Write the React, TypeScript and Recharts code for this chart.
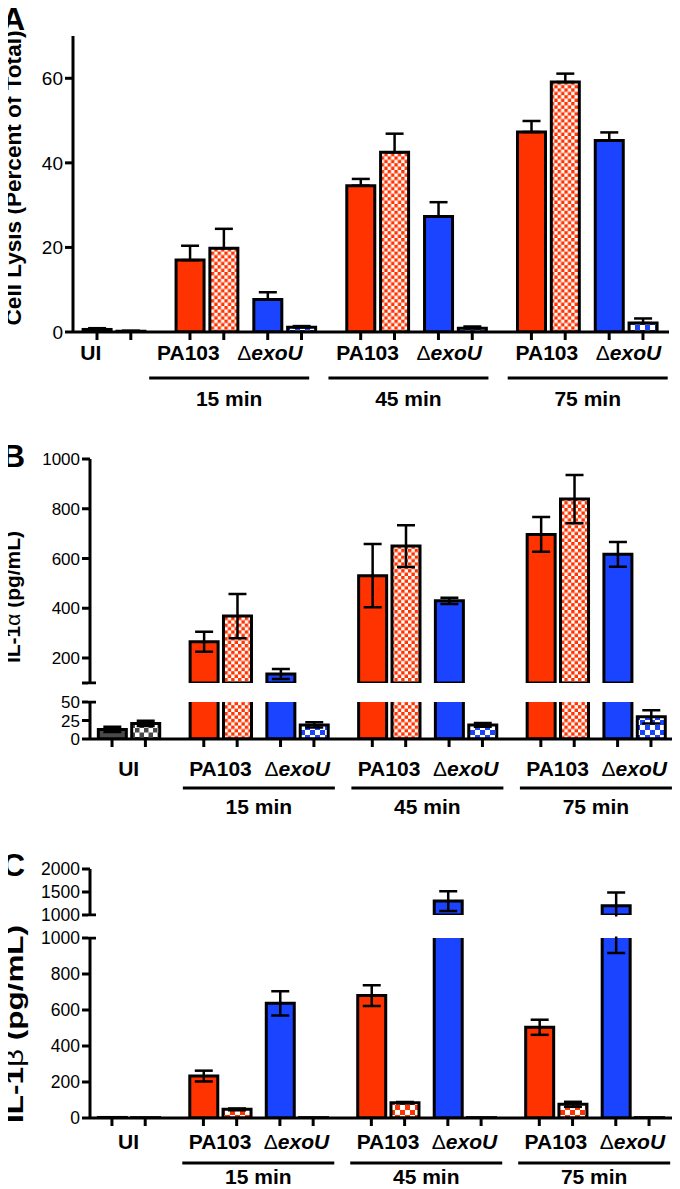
import React from "react";
import { BarChart, Bar, XAxis, YAxis, ErrorBar, Cell } from "recharts";

const FONT = '"Liberation Sans", Arial, Helvetica, sans-serif';
const INK = "#000000";
const RED = "#ff3300";
const BLUE = "#1a44ff";
const GRAY = "#4a4a4a";

// x axis groups
const uiLabel = "UI";
const strains = ["PA103", "ΔexoU"];
const timePoints = ["15 min", "45 min", "75 min"];

// bar order: UI, UI (checked), then per time point
// PA103, PA103 (checked), ΔexoU, ΔexoU (checked)
const lysisMean = [0.6, 0.2, 17.0, 19.8, 7.7, 1.1, 34.6, 42.5, 27.3, 0.9, 47.3, 59.1, 45.3, 2.1];
const lysisSem = [0.3, 0.1, 3.4, 4.6, 1.7, 0.3, 1.6, 4.4, 3.4, 0.4, 2.6, 2.0, 1.9, 1.1];

const il1aMean = [13, 21, 266, 369, 136, 19, 531, 650, 430, 19, 697, 839, 617, 30];
const il1aSem = [3.5, 3.5, 40, 89, 20, 3.5, 127, 84, 13, 2.5, 70, 97, 50, 9];

const il1bMean = [3, 2, 233, 48, 637, 2, 680, 85, 1304, 2, 504, 76, 1202, 2];
const il1bSem = [0, 0, 30, 5, 67, 0, 58, 4, 215, 0, 42, 14, 285, 0];

// spacing between bars, in axis units
const BAR_STEP = 1;
const PAIR_STEP = 1.3;
const GROUP_STEP = 1.75;
const BAR_AXIS_H = 8;

type Kind = "gray" | "red" | "blue";
type BarSlot = { x: number; kind: Kind; checked: boolean };
type Mark = { x: number; label: string };

function buildLayout() {
  const bars: BarSlot[] = [];
  const pairs: Mark[] = [];
  const groups: Mark[] = [];
  let x = 0;
  const addPair = (kind: Kind, label: string) => {
    bars.push({ x, kind, checked: false });
    bars.push({ x: x + BAR_STEP, kind, checked: true });
    pairs.push({ x: x + BAR_STEP / 2, label });
    x += BAR_STEP;
  };
  addPair("gray", uiLabel);
  timePoints.forEach((t) => {
    x += GROUP_STEP;
    const start = x;
    addPair("red", strains[0]);
    x += PAIR_STEP;
    addPair("blue", strains[1]);
    groups.push({ x: (start + x) / 2, label: t });
  });
  return { bars, pairs, groups };
}

const { bars, pairs, groups } = buildLayout();
const barXs = bars.map((b) => b.x);
const labelXs = [...pairs.map((p) => p.x), ...groups.map((g) => g.x)];
const solid: Record<Kind, string> = { gray: GRAY, red: RED, blue: BLUE };

type Seg = {
  key: string;
  top: number;
  height: number;
  marginTop: number;
  marginBottom: number;
  domain: [number, number];
  ticks: number[];
  caps: number[];
  hidden: number[];
  axis: boolean;
  cut: "none" | "top" | "bottom";
};

type Panel = {
  id: string;
  letter: string;
  letterY: number;
  title: React.ReactNode;
  titleX: number; // baseline of the rotated title
  titleY: number;
  titleFont: number;
  titleLen: number;
  mean: number[];
  sem: number[];
  upperOnly: boolean;
  yWidth: number;
  right: number;
  xDomain: [number, number];
  labelDomain: [number, number];
  tickFont: number;
  checks: Record<Kind, number>;
  catY: number;
  lineY: number;
  groupY: number;
  lineW: number;
  labelH: number;
  segs: Seg[];
};

const panels: Panel[] = [
  {
    id: "a",
    letter: "A",
    letterY: 30,
    title: "Cell Lysis (Percent of Total)",
    titleX: 20.5,
    titleY: 178,
    titleFont: 22,
    titleLen: 295,
    mean: lysisMean,
    sem: lysisSem,
    upperOnly: true,
    yWidth: 73,
    right: 11,
    xDomain: [-0.71, 16.92],
    labelDomain: [0, 16.79],
    tickFont: 19,
    checks: { red: 3.4, blue: 5, gray: 4.5 },
    catY: 20.5,
    lineY: 46,
    groupY: 66,
    lineW: 160,
    labelH: 80,
    segs: [
      { key: "m", top: 0, height: 420, marginTop: 36, marginBottom: 0, domain: [0, 70], ticks: [0, 20, 40, 60], caps: [], hidden: [], axis: true, cut: "none" },
    ],
  },
  {
    id: "b",
    letter: "B",
    letterY: 467,
    title: (
      <>
        IL-1<tspan fontWeight="normal">α</tspan> (pg/mL)
      </>
    ),
    titleX: 20,
    titleY: 597,
    titleFont: 21,
    titleLen: 132,
    mean: il1aMean,
    sem: il1aSem,
    upperOnly: false,
    yWidth: 90,
    right: 3,
    xDomain: [-0.66, 16.93],
    labelDomain: [-0.66, 16.93],
    tickFont: 17,
    checks: { red: 3.4, blue: 5, gray: 4.5 },
    catY: 29,
    lineY: 49,
    groupY: 67,
    lineW: 152,
    labelH: 80,
    segs: [
      { key: "u", top: 440, height: 255, marginTop: 19, marginBottom: 12, domain: [100, 1000], ticks: [100, 200, 400, 600, 800, 1000], caps: [100], hidden: [100], axis: false, cut: "bottom" },
      { key: "l", top: 440, height: 387, marginTop: 262, marginBottom: 0, domain: [0, 50], ticks: [0, 25, 50], caps: [50], hidden: [], axis: true, cut: "top" },
    ],
  },
  {
    id: "c",
    letter: "C",
    letterY: 876,
    title: (
      <>
        IL-1<tspan fontWeight="normal">β</tspan> (pg/mL)
      </>
    ),
    titleX: 22.5,
    titleY: 1024,
    titleFont: 24,
    titleLen: 198,
    mean: il1bMean,
    sem: il1bSem,
    upperOnly: false,
    yWidth: 90,
    right: 7,
    xDomain: [-0.66, 16.87],
    labelDomain: [-0.66, 16.87],
    tickFont: 17.5,
    checks: { red: 5, blue: 5, gray: 4.5 },
    catY: 23,
    lineY: 45,
    groupY: 58,
    lineW: 152,
    labelH: 63,
    segs: [
      { key: "u", top: 850, height: 77, marginTop: 19, marginBottom: 12, domain: [1000, 2000], ticks: [1000, 1500, 2000], caps: [1000], hidden: [], axis: false, cut: "bottom" },
      { key: "l", top: 850, height: 339, marginTop: 88, marginBottom: 0, domain: [0, 1000], ticks: [0, 200, 400, 600, 800, 1000], caps: [1000], hidden: [], axis: true, cut: "top" },
    ],
  },
];

function strainText(label: string) {
  if (label.startsWith("Δ")) {
    return [
      <tspan key="d" fontWeight="normal">Δ</tspan>,
      <tspan key="e" fontStyle="italic">{label.slice(1)}</tspan>,
    ];
  }
  return label;
}

const emptyTick = () => <g />;

const makeYTick = (font: number, caps: number[], hidden: number[]) => (props: any) => {
  const { x, y, payload } = props;
  const v = payload.value;
  return (
    <g>
      <line x1={x - 8} x2={caps.includes(v) ? x + 6 : x} y1={y} y2={y} stroke={INK} strokeWidth={3} />
      {!hidden.includes(v) && (
        <text x={x - 10} y={y} dy="0.36em" textAnchor="end" fontSize={font} fontFamily={FONT} fill={INK}>
          {v}
        </text>
      )}
    </g>
  );
};

const makeLabelTick = (p: Panel) => (props: any) => {
  const { x, y, payload } = props;
  const axisY = y - BAR_AXIS_H;
  const v = payload.value;
  const pair = pairs.find((q) => Math.abs(q.x - v) < 1e-6);
  if (pair) {
    return (
      <text x={x} y={axisY + p.catY} dy="0.36em" textAnchor="middle" fontSize={21} fontWeight="bold" fontFamily={FONT} fill={INK}>
        {strainText(pair.label)}
      </text>
    );
  }
  const group = groups.find((g) => Math.abs(g.x - v) < 1e-6);
  if (!group) return <g />;
  return (
    <g>
      <line x1={x - p.lineW / 2} x2={x + p.lineW / 2} y1={axisY + p.lineY} y2={axisY + p.lineY} stroke={INK} strokeWidth={3} />
      <text x={x} y={axisY + p.groupY} dy="0.36em" textAnchor="middle" fontSize={21} fontWeight="bold" fontFamily={FONT} fill={INK}>
        {group.label}
      </text>
    </g>
  );
};

// hides whatever spills over the axis break, keeping the tick labels on the left
function breakClip(p: Panel, s: Seg): string | undefined {
  const w = 680;
  const h = s.height;
  const left = p.yWidth - 2;
  if (s.cut === "bottom") {
    const yb = h - s.marginBottom + 1.5;
    return `polygon(0 0, ${w}px 0, ${w}px ${yb}px, ${left}px ${yb}px, ${left}px ${h}px, 0 ${h}px)`;
  }
  if (s.cut === "top") {
    const yt = s.marginTop - 1.5;
    return `polygon(0 0, ${left}px 0, ${left}px ${yt}px, ${w}px ${yt}px, ${w}px ${h}px, 0 ${h}px)`;
  }
  return undefined;
}

function Segment({ p, s }: { p: Panel; s: Seg }) {
  const lo = s.domain[0];
  const rows = bars.map((b, i) => {
    const v = p.mean[i];
    const value = lo > 0 && v <= lo ? null : v;
    const e = p.sem[i];
    return { x: b.x, value, err: value == null || !e ? null : p.upperOnly ? [0, e] : e };
  });
  const fills = bars.map((b) => (b.checked ? `url(#chk-${p.id}-${b.kind})` : solid[b.kind]));
  const line = { stroke: INK, strokeWidth: 3 };
  return (
    <div style={{ position: "absolute", left: 0, top: s.top, clipPath: breakClip(p, s) }}>
      <BarChart width={680} height={s.height} data={rows} margin={{ top: s.marginTop, right: p.right, bottom: s.marginBottom, left: 0 }}>
        <XAxis
          xAxisId="b"
          dataKey="x"
          type="number"
          domain={p.xDomain}
          ticks={barXs}
          interval={0}
          height={s.axis ? BAR_AXIS_H : 0}
          tick={emptyTick}
          tickSize={8}
          axisLine={s.axis ? line : false}
          tickLine={s.axis ? line : false}
        />
        {s.axis && (
          <XAxis
            xAxisId="l"
            dataKey="x"
            type="number"
            domain={p.labelDomain}
            ticks={labelXs}
            interval={0}
            height={p.labelH}
            axisLine={false}
            tickLine={false}
            tickSize={0}
            tickMargin={0}
            tick={makeLabelTick(p)}
          />
        )}
        <YAxis
          type="number"
          domain={s.domain}
          ticks={s.ticks}
          interval={0}
          allowDataOverflow
          width={p.yWidth}
          axisLine={line}
          tickLine={false}
          tickSize={0}
          tickMargin={0}
          tick={makeYTick(p.tickFont, s.caps, s.hidden)}
        />
        <Bar xAxisId="b" dataKey="value" barSize={28} stroke={INK} strokeWidth={3} isAnimationActive={false}>
          {rows.map((_, i) => (
            <Cell key={i} fill={fills[i]} />
          ))}
          <ErrorBar dataKey="err" direction="y" width={9} stroke={INK} strokeWidth={2.5} />
        </Bar>
      </BarChart>
    </div>
  );
}

function Patterns() {
  const tile = (id: string, color: string, s: number) => (
    <pattern key={id} id={id} width={2 * s} height={2 * s} patternUnits="userSpaceOnUse">
      <rect width={2 * s} height={2 * s} fill="#ffffff" />
      <rect width={s} height={s} fill={color} />
      <rect x={s} y={s} width={s} height={s} fill={color} />
    </pattern>
  );
  return (
    <svg width={0} height={0} style={{ position: "absolute" }}>
      <defs>
        {panels.flatMap((p) =>
          (Object.keys(solid) as Kind[]).map((k) => tile(`chk-${p.id}-${k}`, solid[k], p.checks[k]))
        )}
      </defs>
    </svg>
  );
}

function Titles() {
  return (
    <svg width={680} height={1189} style={{ position: "absolute", left: 0, top: 0, pointerEvents: "none" }}>
      {panels.map((p) => (
        <g key={p.id}>
          <text x={2} y={p.letterY} fontSize={32} fontWeight="bold" fontFamily={FONT} fill={INK}>
            {p.letter}
          </text>
          <text
            transform={`translate(${p.titleX},${p.titleY}) rotate(-90)`}
            x={0}
            y={0}
            textAnchor="middle"
            fontSize={p.titleFont}
            fontWeight="bold"
            fontFamily={FONT}
            fill={INK}
            textLength={p.titleLen}
            lengthAdjust="spacingAndGlyphs"
          >
            {p.title}
          </text>
        </g>
      ))}
    </svg>
  );
}

export default function App() {
  return (
    <div
      style={{
        position: "relative",
        width: 680,
        height: 1189,
        margin: "-8px 0 0 -8px",
        background: "#ffffff",
        overflow: "hidden",
        fontFamily: FONT,
      }}
    >
      <Patterns />
      {panels.map((p) => p.segs.map((s) => <Segment key={`${p.id}-${s.key}`} p={p} s={s} />))}
      <Titles />
    </div>
  );
}
